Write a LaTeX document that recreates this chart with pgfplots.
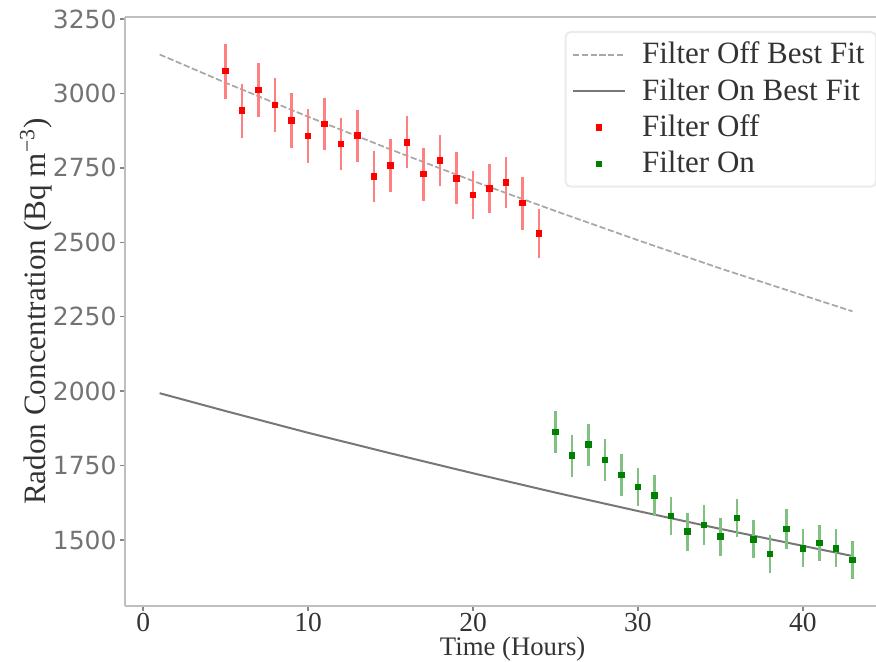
\documentclass[border=0pt]{standalone}
\usepackage{fontspec}
\setmainfont{Liberation Serif}
\newfontfamily\ytickfont{DejaVu Sans}
\usepackage{pgfplots}
\pgfplotsset{compat=1.18}
\definecolor{spine}{HTML}{BFBFBF}
\definecolor{offfit}{HTML}{A8A8A8}
\definecolor{onfit}{HTML}{777777}
\definecolor{offbar}{HTML}{FF8080}
\definecolor{onbar}{HTML}{80C080}
\definecolor{ongreen}{HTML}{008000}
\definecolor{txt}{HTML}{333333}
\pgfplotsset{
  lineleg/.style={legend image code/.code={\draw[##1] (0pt,0pt) -- (20.8pt,0pt);}},
  markleg/.style={legend image code/.code={\draw[mark repeat=2,mark phase=2,##1] plot coordinates {(0pt,0pt)(10.4pt,0pt)(20.8pt,0pt)};}},
}

\pgfplotstableread{
x y err
5 3075 92
6 2942 91
7 3011 90
8 2961 92
9 2909 91
10 2857 92
11 2898 87
12 2831 87
13 2858 87
14 2721 87
15 2758 88
16 2836 87
17 2729 89
18 2775 86
19 2715 87
20 2659 81
21 2680 82
22 2701 86
23 2632 89
24 2529 82
}\offdata

\pgfplotstableread{
x y err
25 1863 70
26 1783 71
27 1820 70
28 1768 71
29 1718 70
30 1677 64
31 1649 69
32 1580 64
33 1528 64
34 1550 66
35 1511 64
36 1573 64
37 1502 64
38 1453 63
39 1536 67
40 1472 64
41 1489 61
42 1472 64
43 1433 65
}\ondata

\begin{document}
\begin{tikzpicture}
\begin{axis}[
  scale only axis,
  width=300.4pt, height=235.6pt,
  xmin=-1.1, xmax=44.43,
  ymin=1278, ymax=3257,
  axis x line*=bottom, axis y line*=left,
  axis line style={spine, line width=0.8pt},
  xtick={0,10,20,30,40},
  ytick={1500,1750,2000,2250,2500,2750,3000,3250},
  tick align=outside,
  major tick length=2pt,
  tick style={spine!70!black, line width=0.6pt},
  scaled ticks=false,
  /pgf/number format/assume math mode=true,
  /pgf/number format/1000 sep={},
  xticklabel style={font=\fontsize{11}{13}\selectfont, text=txt, inner sep=0pt, yshift=-0.5pt},
  yticklabel style={font=\ytickfont\fontsize{10}{12}\selectfont, text=black!55, inner sep=0pt, xshift=-1.2pt},
  xlabel={Time (Hours)},
  ylabel={Radon Concentration (Bq m\textsuperscript{−3})},
  xlabel style={font=\fontsize{10.7}{13}\selectfont, text=txt, at={(axis cs:22.4,1278)}, anchor=north, inner sep=0pt, yshift=-12.2pt},
  ylabel style={font=\fontsize{12.45}{14}\selectfont, text=txt, at={(axis description cs:-0.1185,0.5)}, anchor=center, inner sep=0pt},
  legend style={at={(axis cs:25.55,3210)}, anchor=north west, draw=black!8, line width=0.8pt,
    rounded corners=2pt, fill=white, font=\fontsize{12.4}{14}\selectfont, text=txt,
    inner xsep=2.6pt, inner ysep=2pt, row sep=0.4pt,
    /tikz/every odd column/.append style={column sep=4.4pt}},
  legend cell align=left,
  clip=false,
]
\addplot[offfit, line width=0.7pt, dash pattern=on 2.5pt off 1pt, lineleg]
  coordinates {(1,3131) (5,3036) (10,2922) (15,2812) (20,2706) (25,2605) (30,2507) (35,2412) (40,2322) (43,2268)};
\addlegendentry{Filter Off Best Fit}
\addplot[onfit, line width=0.8pt, lineleg]
  coordinates {(1,1993) (5,1933) (10,1860) (15,1791) (20,1724) (25,1659) (30,1597) (35,1537) (40,1480) (43,1446)};
\addlegendentry{Filter On Best Fit}
\addplot[only marks, mark=square*, mark size=1.1pt, mark options={fill=red, draw=red, line width=0pt}, markleg,
  error bars/.cd, y dir=both, y explicit, error mark=none,
  error bar style={offbar, line width=0.9pt}]
  table[x=x, y=y, y error=err] {\offdata};
\addlegendentry{Filter Off}
\addplot[only marks, mark=square*, mark size=1.1pt, mark options={fill=ongreen, draw=ongreen, line width=0pt}, markleg,
  error bars/.cd, y dir=both, y explicit, error mark=none,
  error bar style={onbar, line width=0.9pt}]
  table[x=x, y=y, y error=err] {\ondata};
\addlegendentry{Filter On}
\draw[spine, line width=0.8pt] (rel axis cs:0,1) -- (rel axis cs:1,1);
\end{axis}
\pgfresetboundingbox
\path[use as bounding box] ([xshift=-50pt,yshift=6.8pt]current axis.north west) rectangle ([yshift=-22.4pt]current axis.south east);
\end{tikzpicture}
\end{document}
